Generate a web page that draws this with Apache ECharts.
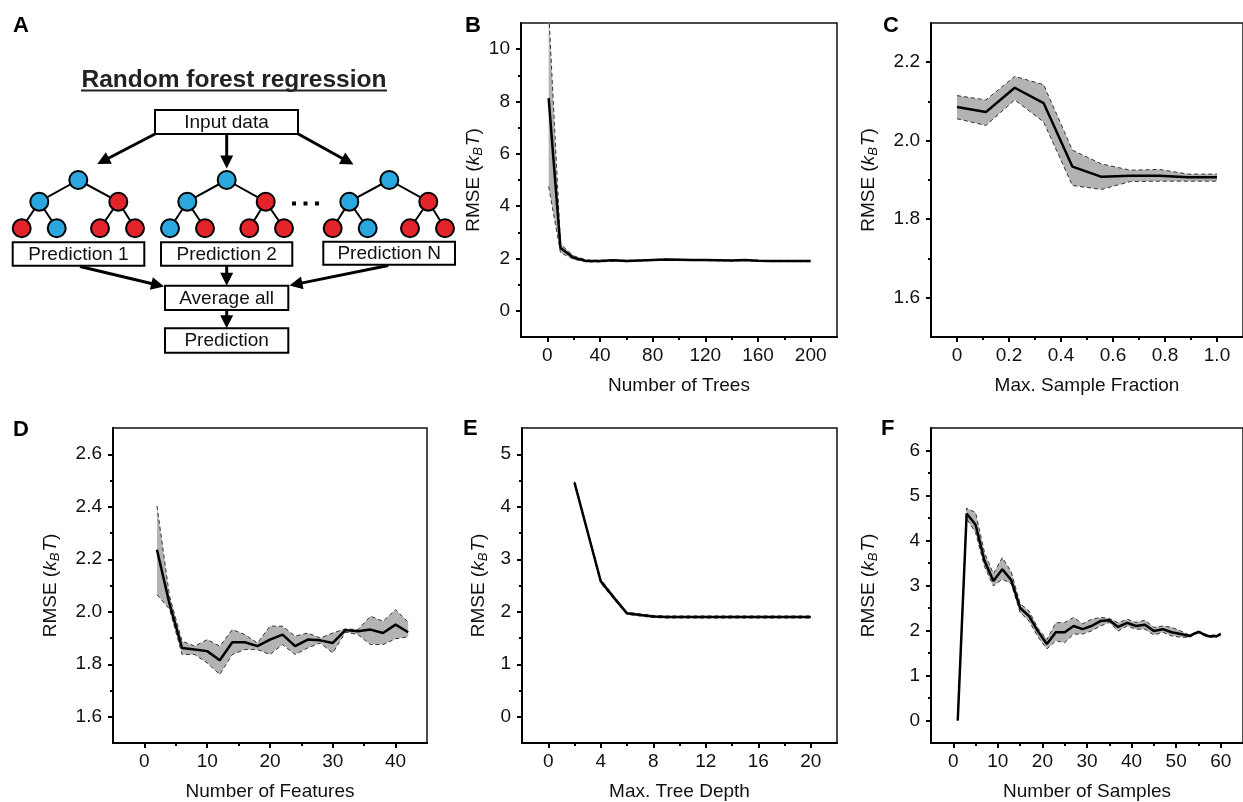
<!DOCTYPE html>
<html>
<head>
<meta charset="utf-8">
<script src="https://cdn.jsdelivr.net/npm/echarts@6/dist/echarts.min.js"></script>
<style>
  html, body { margin: 0; padding: 0; background: #fff; }
  #chart { width: 1243px; height: 802px; }
</style>
</head>
<body>
<div id="chart"></div>
<script>
// ---------- B: number of trees ----------
const treesX     = [1, 10, 20, 30, 40, 50, 60, 70, 80, 90, 100, 110, 120, 130, 140, 150, 160, 170, 180, 190, 200];
const treesMean  = [8.13, 2.40, 2.03, 1.90, 1.90, 1.93, 1.90, 1.92, 1.94, 1.96, 1.95, 1.94, 1.94, 1.93, 1.92, 1.94, 1.91, 1.90, 1.90, 1.90, 1.90];
const treesUpper = [11.5, 2.55, 2.10, 1.94, 1.93, 1.95, 1.93, 1.94, 1.96, 1.98, 1.97, 1.96, 1.96, 1.95, 1.94, 1.96, 1.93, 1.92, 1.92, 1.92, 1.92];
const treesLower = [4.75, 2.22, 1.97, 1.87, 1.87, 1.90, 1.88, 1.90, 1.92, 1.94, 1.93, 1.92, 1.92, 1.91, 1.90, 1.92, 1.89, 1.88, 1.88, 1.88, 1.88];
const treesXTicks = [0, 40, 80, 120, 160, 200];
const treesXMinor = [20, 60, 100, 140, 180];
const treesYTicks = [0, 2, 4, 6, 8, 10];
const treesYMinor = [1, 3, 5, 7, 9];

// ---------- C: max. sample fraction ----------
const fracX     = [0, 0.111, 0.222, 0.333, 0.444, 0.556, 0.667, 0.778, 0.889, 1.0];
const fracMean  = [2.086, 2.073, 2.135, 2.096, 1.934, 1.908, 1.911, 1.911, 1.907, 1.907];
const fracUpper = [2.115, 2.104, 2.164, 2.143, 1.976, 1.941, 1.925, 1.927, 1.915, 1.915];
const fracLower = [2.056, 2.039, 2.104, 2.048, 1.886, 1.876, 1.896, 1.897, 1.897, 1.897];
const fracXTicks = [0, 0.2, 0.4, 0.6, 0.8, 1.0];
const fracXMinor = [0.1, 0.3, 0.5, 0.7, 0.9];
const fracYTicks = [1.6, 1.8, 2.0, 2.2];
const fracYMinor = [1.7, 1.9, 2.1];

// ---------- D: number of features ----------
const featX     = [2, 4, 6, 8, 10, 12, 14, 16, 18, 20, 22, 24, 26, 28, 30, 32, 34, 36, 38, 40, 42];
const featMean  = [2.236, 2.03, 1.862, 1.856, 1.850, 1.815, 1.884, 1.884, 1.869, 1.894, 1.913, 1.869, 1.894, 1.891, 1.881, 1.930, 1.926, 1.932, 1.919, 1.951, 1.922];
const featUpper = [2.403, 2.06, 1.888, 1.869, 1.894, 1.869, 1.932, 1.913, 1.881, 1.945, 1.945, 1.907, 1.919, 1.900, 1.919, 1.935, 1.932, 1.983, 1.964, 2.008, 1.960];
const featLower = [2.065, 2.01, 1.837, 1.837, 1.805, 1.761, 1.837, 1.856, 1.856, 1.837, 1.875, 1.837, 1.862, 1.881, 1.843, 1.922, 1.913, 1.875, 1.875, 1.897, 1.904];
const featXTicks = [0, 10, 20, 30, 40];
const featXMinor = [5, 15, 25, 35];
const featYTicks = [1.6, 1.8, 2.0, 2.2, 2.4, 2.6];
const featYMinor = [1.7, 1.9, 2.1, 2.3, 2.5];

// ---------- E: max. tree depth ----------
const depthX     = [2, 3, 4, 5, 6, 7, 8, 9, 10, 11, 12, 13, 14, 15, 16, 17, 18, 19, 20];
const depthMean  = [4.46, 3.52, 2.58, 2.27, 1.97, 1.94, 1.91, 1.90, 1.90, 1.90, 1.90, 1.90, 1.90, 1.90, 1.90, 1.90, 1.90, 1.90, 1.90];
const depthUpper = [4.48, 3.55, 2.62, 2.30, 1.99, 1.96, 1.93, 1.92, 1.92, 1.92, 1.92, 1.92, 1.92, 1.92, 1.92, 1.92, 1.92, 1.92, 1.92];
const depthLower = [4.44, 3.50, 2.54, 2.24, 1.95, 1.92, 1.89, 1.88, 1.88, 1.88, 1.88, 1.88, 1.88, 1.88, 1.88, 1.88, 1.88, 1.88, 1.88];
const depthXTicks = [0, 4, 8, 12, 16, 20];
const depthXMinor = [2, 6, 10, 14, 18];
const depthYTicks = [0, 1, 2, 3, 4, 5];
const depthYMinor = [0.5, 1.5, 2.5, 3.5, 4.5];

// ---------- F: number of samples ----------
const sampX     = [1, 3, 5, 7, 9, 11, 13, 15, 17, 19, 21, 23, 25, 27, 29, 31, 33, 35, 37, 39, 41, 43, 45, 47, 49, 51, 53, 55, 57, 59, 60];
const sampMean  = [0, 4.60, 4.35, 3.55, 3.10, 3.36, 3.12, 2.50, 2.32, 1.98, 1.70, 1.96, 1.96, 2.10, 2.03, 2.10, 2.21, 2.23, 2.08, 2.17, 2.10, 2.13, 1.99, 2.03, 1.96, 1.92, 1.88, 1.97, 1.88, 1.87, 1.92];
const sampUpper = [0, 4.72, 4.62, 3.73, 3.26, 3.62, 3.30, 2.60, 2.43, 2.05, 1.80, 2.17, 2.18, 2.29, 2.15, 2.25, 2.29, 2.27, 2.17, 2.25, 2.18, 2.23, 2.07, 2.10, 2.07, 1.99, 1.90, 1.99, 1.90, 1.90, 1.94];
const sampLower = [0, 4.48, 4.18, 3.42, 2.99, 3.14, 3.04, 2.40, 2.21, 1.86, 1.59, 1.77, 1.73, 1.92, 1.92, 1.99, 2.10, 2.18, 1.99, 2.10, 2.03, 2.03, 1.90, 1.96, 1.88, 1.85, 1.85, 1.95, 1.85, 1.85, 1.90];
const sampXTicks = [0, 10, 20, 30, 40, 50, 60];
const sampXMinor = [5, 15, 25, 35, 45, 55];
const sampYTicks = [0, 1, 2, 3, 4, 5, 6];
const sampYMinor = [0.5, 1.5, 2.5, 3.5, 4.5, 5.5];

const FONT = 'Liberation Sans, Arial, Helvetica, sans-serif';
const fmtInt = v => String(v);
const fmtOne = v => (v === 0 ? '0' : v.toFixed(1));

const panels = [
  { box: { left: 521, top: 23, width: 316, height: 314 }, xRange: [-20, 220], yRange: [-1, 11],
    x: treesX, mean: treesMean, upper: treesUpper, lower: treesLower,
    xTicks: treesXTicks, xMinor: treesXMinor, yTicks: treesYTicks, yMinor: treesYMinor,
    xFmt: fmtInt, yFmt: fmtInt, xName: 'Number of Trees', yGap: 32 },
  { box: { left: 931, top: 23, width: 316, height: 314 }, xRange: [-0.1, 1.1], yRange: [1.5, 2.3],
    x: fracX, mean: fracMean, upper: fracUpper, lower: fracLower,
    xTicks: fracXTicks, xMinor: fracXMinor, yTicks: fracYTicks, yMinor: fracYMinor,
    xFmt: fmtOne, yFmt: fmtOne, xName: 'Max. Sample Fraction', yGap: 51 },
  { box: { left: 113, top: 428, width: 314, height: 316 }, xRange: [-5, 45], yRange: [1.5, 2.7],
    x: featX, mean: featMean, upper: featUpper, lower: featLower,
    xTicks: featXTicks, xMinor: featXMinor, yTicks: featYTicks, yMinor: featYMinor,
    xFmt: fmtInt, yFmt: fmtOne, xName: 'Number of Features', yGap: 51 },
  { box: { left: 522, top: 428, width: 315, height: 316 }, xRange: [-2, 22], yRange: [-0.5, 5.5],
    x: depthX, mean: depthMean, upper: depthUpper, lower: depthLower,
    xTicks: depthXTicks, xMinor: depthXMinor, yTicks: depthYTicks, yMinor: depthYMinor,
    xFmt: fmtInt, yFmt: fmtInt, xName: 'Max. Tree Depth', yGap: 32 },
  { box: { left: 931, top: 428, width: 315, height: 316 }, xRange: [-5, 65], yRange: [-0.5, 6.5],
    x: sampX, mean: sampMean, upper: sampUpper, lower: sampLower,
    xTicks: sampXTicks, xMinor: sampXMinor, yTicks: sampYTicks, yMinor: sampYMinor,
    xFmt: fmtInt, yFmt: fmtInt, xName: 'Number of Samples', yGap: 51 }
];

const zip = (xs, ys) => xs.map((x, i) => [x, ys[i]]);

const rmseName = '{n|RMSE (}{i|k}{s|B}{i|T}{n|)}';
const rmseStyle = {
  color: '#111', fontFamily: FONT, fontSize: 19,
  rich: {
    n: { fontSize: 19, fontFamily: FONT, color: '#111' },
    i: { fontSize: 19, fontFamily: FONT, color: '#111', fontStyle: 'italic' },
    s: { fontSize: 13, fontFamily: FONT, color: '#111', fontStyle: 'italic', padding: [10, 1, 0, 0] }
  }
};

const grids = [], xAxes = [], yAxes = [], series = [];

panels.forEach((p, gi) => {
  grids.push(Object.assign({ show: true, borderColor: '#111', borderWidth: 1.5, containLabel: false }, p.box));

  const axisLine = { show: true, onZero: false, lineStyle: { color: '#000', width: 2 } };
  const hiddenLine = { show: false, onZero: false };
  const tickLine = { color: '#000', width: 2 };

  // main x axis: line, major ticks, labels, title
  xAxes.push({
    gridIndex: gi, type: 'value', position: 'bottom', min: p.xRange[0], max: p.xRange[1],
    axisLine, splitLine: { show: false },
    axisTick: { show: true, inside: false, length: 5, lineStyle: tickLine, customValues: p.xTicks },
    axisLabel: { customValues: p.xTicks, formatter: p.xFmt, fontSize: 19, color: '#111', fontFamily: FONT, margin: 9 },
    name: p.xName, nameLocation: 'middle', nameGap: 39,
    nameTextStyle: { fontSize: 19, color: '#111', fontFamily: FONT }
  });
  // minor x ticks
  xAxes.push({
    gridIndex: gi, type: 'value', position: 'bottom', min: p.xRange[0], max: p.xRange[1],
    axisLine: hiddenLine, splitLine: { show: false }, axisLabel: { show: false },
    axisTick: { show: true, inside: false, length: 3, lineStyle: tickLine, customValues: p.xMinor }
  });
  // main y axis
  yAxes.push({
    gridIndex: gi, type: 'value', position: 'left', min: p.yRange[0], max: p.yRange[1],
    axisLine, splitLine: { show: false },
    axisTick: { show: true, inside: false, length: 5, lineStyle: tickLine, customValues: p.yTicks },
    axisLabel: { customValues: p.yTicks, formatter: p.yFmt, fontSize: 19, color: '#111', fontFamily: FONT, margin: 11 },
    name: rmseName, nameLocation: 'middle', nameGap: p.yGap, nameRotate: 90,
    nameTextStyle: rmseStyle
  });
  // minor y ticks
  yAxes.push({
    gridIndex: gi, type: 'value', position: 'left', min: p.yRange[0], max: p.yRange[1],
    axisLine: hiddenLine, splitLine: { show: false }, axisLabel: { show: false },
    axisTick: { show: true, inside: false, length: 3, lineStyle: tickLine, customValues: p.yMinor }
  });

  const ax = { xAxisIndex: gi * 2, yAxisIndex: gi * 2 };

  // shaded band between lower and upper bounds
  series.push(Object.assign({
    type: 'custom', silent: true, z: 1,
    data: [[p.x[0], p.mean[0]]],
    renderItem: function (params, api) {
      const pts = [];
      for (let i = 0; i < p.x.length; i++) pts.push(api.coord([p.x[i], p.upper[i]]));
      for (let i = p.x.length - 1; i >= 0; i--) pts.push(api.coord([p.x[i], p.lower[i]]));
      const cs = params.coordSys;
      return {
        type: 'polygon', shape: { points: pts }, style: { fill: '#b3b3b3' },
        clipPath: { type: 'rect', shape: { x: cs.x, y: cs.y, width: cs.width, height: cs.height } }
      };
    }
  }, ax));

  const dashed = { color: '#333', width: 1, type: [4, 3] };
  series.push(Object.assign({ type: 'line', data: zip(p.x, p.upper), symbol: 'none', silent: true, z: 3, lineStyle: dashed }, ax));
  series.push(Object.assign({ type: 'line', data: zip(p.x, p.lower), symbol: 'none', silent: true, z: 3, lineStyle: dashed }, ax));
  series.push(Object.assign({ type: 'line', data: zip(p.x, p.mean), symbol: 'none', silent: true, z: 4,
    lineStyle: { color: '#000', width: 2.5 } }, ax));
});

// ---------- A: random forest schematic ----------
const BLUE = '#2aa7df', RED = '#e3242b';
const graphics = [];

function panelLetter(t, x, y) {
  graphics.push({ type: 'text', x, y, style: { text: t, font: 'bold 22px ' + FONT, fill: '#000', align: 'left', verticalAlign: 'middle' } });
}
function box(x, y, w, h, label) {
  graphics.push({ type: 'rect', shape: { x, y, width: w, height: h }, style: { fill: '#fff', stroke: '#000', lineWidth: 2 }, z: 5 });
  graphics.push({ type: 'text', x: x + w / 2, y: y + h / 2 + 0.5, z: 6,
    style: { text: label, font: '19px ' + FONT, fill: '#111', align: 'center', verticalAlign: 'middle' } });
}
function arrow(x1, y1, x2, y2) {
  const dx = x2 - x1, dy = y2 - y1, L = Math.hypot(dx, dy);
  const ux = dx / L, uy = dy / L, hl = 13, hw = 6.5;
  const bx = x2 - ux * hl, by = y2 - uy * hl;
  graphics.push({ type: 'line', shape: { x1, y1, x2: bx + ux, y2: by + uy }, style: { stroke: '#000', lineWidth: 3 }, z: 4 });
  graphics.push({ type: 'polygon', shape: { points: [[x2, y2], [bx - uy * hw, by + ux * hw], [bx + uy * hw, by - ux * hw]] },
    style: { fill: '#000' }, z: 4 });
}
function tree(rootX, l2, leaves, colors) {
  const yR = 180, y2 = 201.7, y3 = 228.3;
  const edges = [[rootX, yR, l2[0], y2], [rootX, yR, l2[1], y2],
    [l2[0], y2, leaves[0], y3], [l2[0], y2, leaves[1], y3],
    [l2[1], y2, leaves[2], y3], [l2[1], y2, leaves[3], y3]];
  edges.forEach(e => graphics.push({ type: 'line', shape: { x1: e[0], y1: e[1], x2: e[2], y2: e[3] },
    style: { stroke: '#000', lineWidth: 2 }, z: 2 }));
  const nodes = [[rootX, yR], [l2[0], y2], [l2[1], y2], [leaves[0], y3], [leaves[1], y3], [leaves[2], y3], [leaves[3], y3]];
  nodes.forEach((n, i) => graphics.push({ type: 'circle', shape: { cx: n[0], cy: n[1], r: 9 },
    style: { fill: colors[i] === 'b' ? BLUE : RED, stroke: '#000', lineWidth: 2 }, z: 3 }));
}

panelLetter('A', 13, 26);
panelLetter('B', 465, 25.5);
panelLetter('C', 883, 25.5);
panelLetter('D', 13, 429.5);
panelLetter('E', 463, 429);
panelLetter('F', 881, 429);

graphics.push({ type: 'text', x: 234, y: 80, style: { text: 'Random forest regression', font: 'bold 24.5px ' + FONT,
  fill: '#222', align: 'center', verticalAlign: 'middle' } });
graphics.push({ type: 'rect', shape: { x: 81, y: 89.5, width: 306, height: 2 }, style: { fill: '#222' } });

box(155, 110, 143, 24, 'Input data');
arrow(155, 134, 97.3, 164);
arrow(226.7, 134, 226.7, 168.5);
arrow(298.3, 134, 353.5, 164.5);

tree(78.3, [39.3, 118.3], [21.7, 56.7, 100, 135], ['b', 'b', 'r', 'r', 'b', 'r', 'r']);
tree(226.7, [187.3, 265.7], [170, 205, 249.3, 284], ['b', 'b', 'r', 'b', 'r', 'r', 'r']);
tree(389.3, [349.3, 428.3], [332.7, 367.7, 410, 445], ['b', 'b', 'r', 'r', 'b', 'r', 'r']);
[294, 305.5, 317].forEach(cx => graphics.push({ type: 'rect', shape: { x: cx - 2, y: 201.5, width: 4, height: 4 }, style: { fill: '#000' } }));

box(12.7, 242.3, 131.6, 23.4, 'Prediction 1');
box(161, 242.3, 131.3, 23.4, 'Prediction 2');
box(323.3, 241.7, 131.7, 23, 'Prediction N');
arrow(80, 266.5, 164, 286.5);
arrow(226.7, 266, 226.7, 285.7);
arrow(388.3, 265.5, 289.5, 285.5);
box(165, 285.7, 123.3, 24.3, 'Average all');
arrow(226.7, 310, 226.7, 328.3);
box(165, 328.3, 123.3, 24.4, 'Prediction');

const chart = echarts.init(document.getElementById('chart'), null, { renderer: 'canvas' });
chart.setOption({
  animation: false,
  backgroundColor: '#fff',
  grid: grids,
  xAxis: xAxes,
  yAxis: yAxes,
  series: series,
  graphic: graphics
});
</script>
</body>
</html>
